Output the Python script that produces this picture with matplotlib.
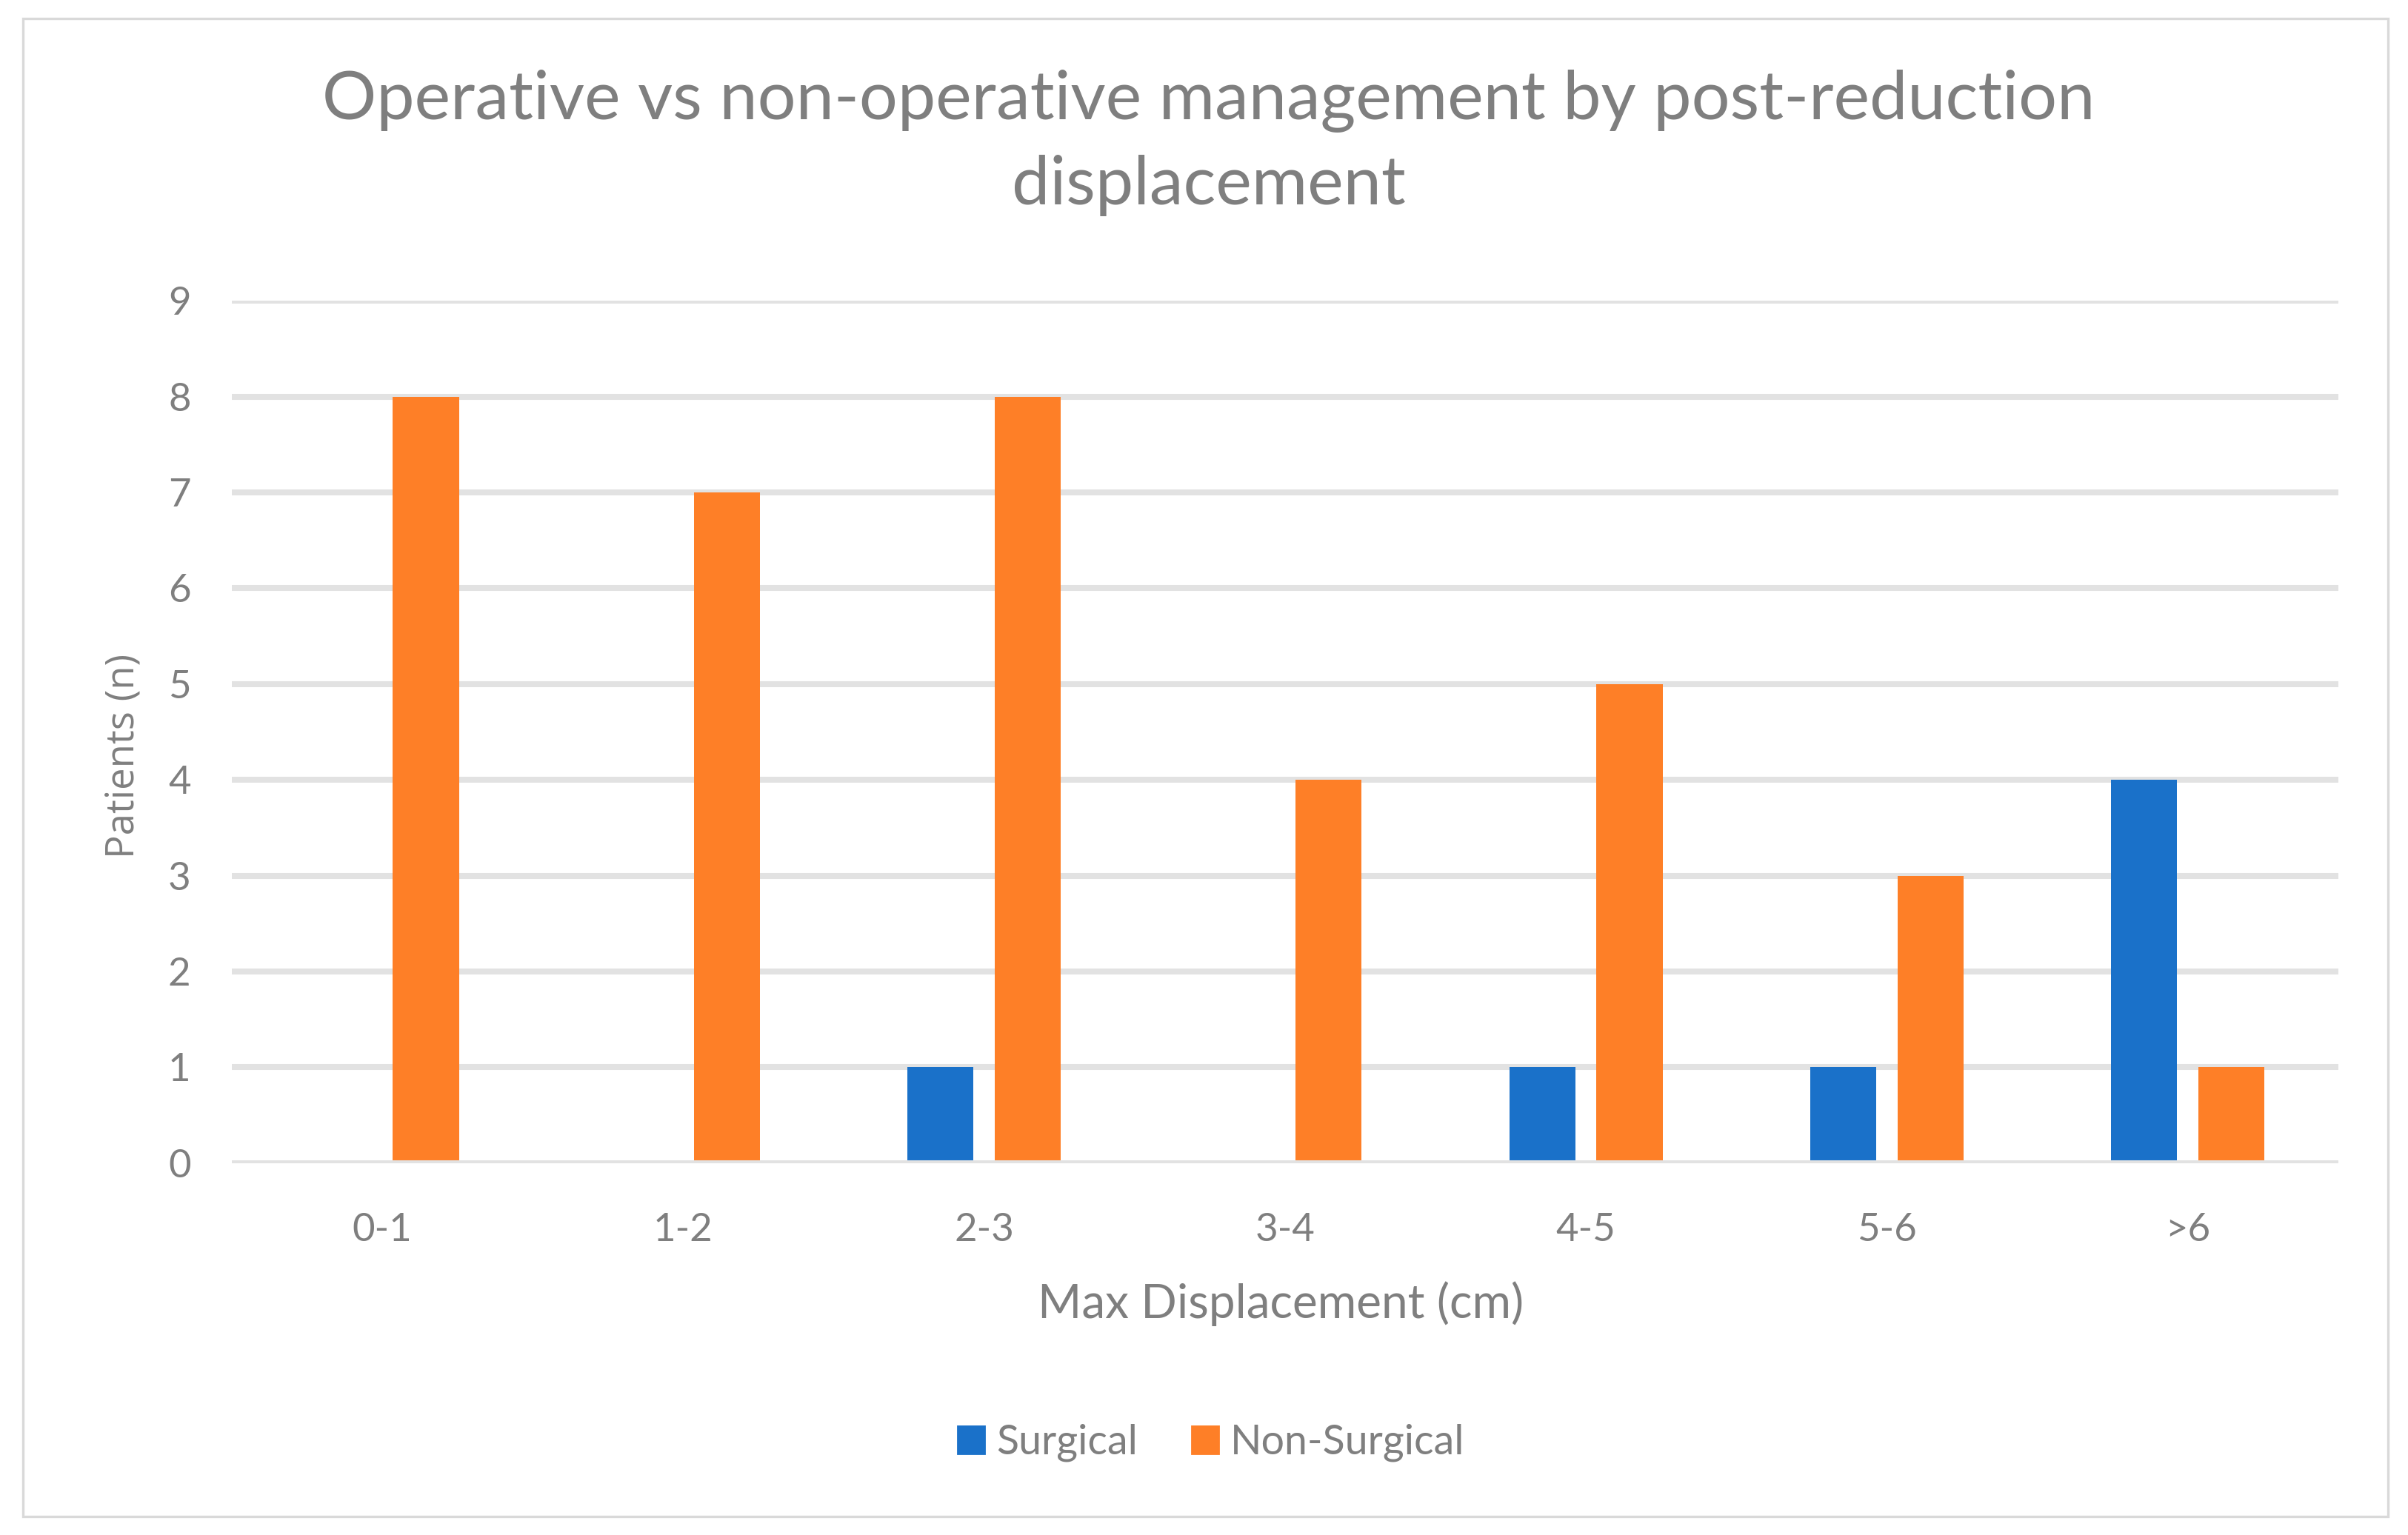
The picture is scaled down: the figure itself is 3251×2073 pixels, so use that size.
import matplotlib.pyplot as plt
import matplotlib.patches as patches
import numpy as np

# Data
categories = ['0-1', '1-2', '2-3', '3-4', '4-5', '5-6', '>6']
surgical = [0, 0, 1, 0, 1, 1, 4]
non_surgical = [8, 7, 8, 4, 5, 3, 1]

blue = '#1a71c9'
orange = '#fe7f27'
grey_text = '#7f7f7f'
grid_col = '#e2e2e2'

plt.rcParams['font.family'] = ['Lato', 'DejaVu Sans']

fig = plt.figure(figsize=(16.255, 10.365), dpi=200)
ax = fig.add_axes([0.0963, 0.2422, 0.8747, 0.5619])

x = np.arange(len(categories))
w = 0.22
off = 0.145
ax.bar(x - off, surgical, w, color=blue, zorder=2)
ax.bar(x + off, non_surgical, w, color=orange, zorder=2)

# gridlines, zero line drawn over the bars like Excel's axis
for yv in range(1, 10):
    ax.axhline(yv, color=grid_col, lw=2.9, zorder=1)
ax.axhline(0, color=grid_col, lw=2.9, zorder=3)

ax.set_xlim(-0.5, len(categories) - 0.5)
ax.set_ylim(0, 9)
ax.set_yticks(range(0, 10))
ax.set_xticks(x)
ax.set_xticklabels(categories)
ax.tick_params(axis='both', length=0, labelsize=19, colors=grey_text)
ax.tick_params(axis='y', pad=20)
ax.tick_params(axis='x', pad=24)
for s in ax.spines.values():
    s.set_visible(False)

fig.text(0.502, 0.907, 'Operative vs non-operative management by post-reduction\ndisplacement',
         ha='center', va='center', fontsize=33, color=grey_text, linespacing=1.45)
fig.text(0.532, 0.1505, 'Max Displacement (cm)', ha='center', va='center',
         fontsize=23, color=grey_text)
fig.text(0.0514, 0.5075, 'Patients (n)', ha='center', va='center', rotation=90,
         fontsize=19, color=grey_text, family=['Open Sans', 'DejaVu Sans'])

handles = [patches.Patch(color=blue, label='Surgical'),
           patches.Patch(color=orange, label='Non-Surgical')]
leg = fig.legend(handles=handles, loc='center', bbox_to_anchor=(0.503, 0.06), ncol=2,
                 frameon=False, fontsize=20, handlelength=0.65, handleheight=0.65,
                 handletextpad=0.3, columnspacing=1.3)
for t in leg.get_texts():
    t.set_color(grey_text)

fig.patches.append(patches.Rectangle((0.0095, 0.012), 0.9823, 0.976, transform=fig.transFigure,
                                     fill=False, edgecolor='#d9d9d9', lw=1.2))

fig.savefig('out.png', dpi=200)
